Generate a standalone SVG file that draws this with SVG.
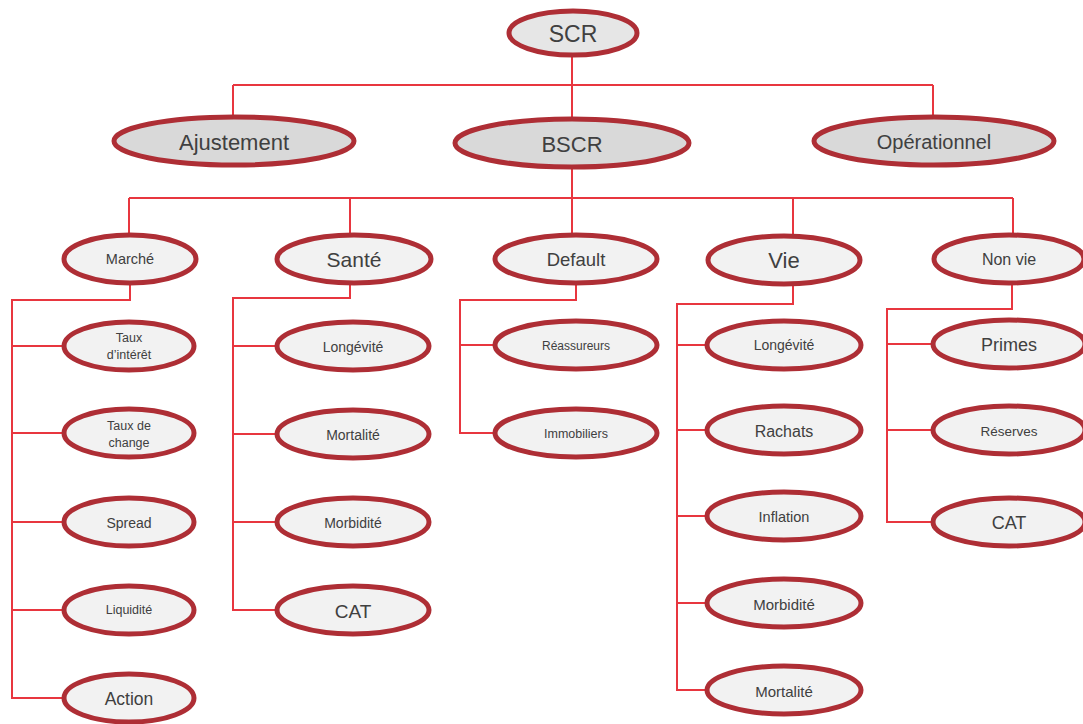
<svg xmlns="http://www.w3.org/2000/svg" width="1083" height="724" viewBox="0 0 1083 724">
<style>
.c{fill:none;stroke:#e8363f;stroke-width:2}
.n ellipse{fill:#f2f2f2;stroke:#ae2e35;stroke-width:5}
.g ellipse{fill:#d9d9d9}
.s ellipse{fill:#e6e6e6}
text{font-family:"Liberation Sans",Arial,sans-serif;fill:#404040;text-anchor:middle;dominant-baseline:central}
</style>
<rect width="1083" height="724" fill="#ffffff"/>
<g id="connectors">
<path class="c" d="M572 55V85M233 85H933M233 85V117M572 85V119M933 85V117"/>
<path class="c" d="M572 167V198M129 198H1013M129 198V235M350 198V235M572 198V235M793 198V236M1013 198V235"/>
<path class="c" d="M130 283V300H12V698H64M12 346H64M12 433H64M12 522H64M12 610H64"/>
<path class="c" d="M350 283V298H233V610H277M233 346H277M233 434H277M233 522H277"/>
<path class="c" d="M576 283V300H460V433H495M460 345H495"/>
<path class="c" d="M793 284V304H677V690H707M677 345H707M677 430H707M677 516H707M677 603H707"/>
<path class="c" d="M1012 283V309H887V522H933M887 344H933M887 430H933"/>
</g>
<g id="scr" class="n s"><ellipse cx="573" cy="33" rx="64" ry="22"/><text x="573" y="34" font-size="23">SCR</text></g>
<g id="ajustement" class="n g"><ellipse cx="234" cy="141" rx="120" ry="24"/><text x="234" y="142" font-size="22">Ajustement</text></g>
<g id="bscr" class="n g"><ellipse cx="572" cy="143" rx="117" ry="24"/><text x="572" y="144" font-size="22">BSCR</text></g>
<g id="operationnel" class="n g"><ellipse cx="934" cy="141" rx="120" ry="24"/><text x="934" y="142" font-size="20">Opérationnel</text></g>
<g id="marche" class="n"><ellipse cx="130" cy="259" rx="66" ry="24"/><text x="130" y="259" font-size="14.5">Marché</text></g>
<g id="sante" class="n"><ellipse cx="354" cy="259" rx="77" ry="24"/><text x="354" y="259" font-size="21">Santé</text></g>
<g id="default" class="n"><ellipse cx="576" cy="259" rx="81" ry="24"/><text x="576" y="259" font-size="18.5">Default</text></g>
<g id="vie" class="n"><ellipse cx="784" cy="260" rx="76" ry="24"/><text x="784" y="260" font-size="22">Vie</text></g>
<g id="nonvie" class="n"><ellipse cx="1009" cy="259" rx="75" ry="24"/><text x="1009" y="259" font-size="16">Non vie</text></g>
<g id="taux-interet" class="n"><ellipse cx="129" cy="346" rx="65" ry="24"/><text x="129" y="338" font-size="12.5">Taux</text><text x="129" y="355" font-size="12.5">d’intérêt</text></g>
<g id="taux-change" class="n"><ellipse cx="129" cy="433" rx="65" ry="24"/><text x="129" y="426" font-size="12.5">Taux de</text><text x="129" y="443" font-size="12.5">change</text></g>
<g id="spread" class="n"><ellipse cx="129" cy="522" rx="65" ry="24"/><text x="129" y="523" font-size="14">Spread</text></g>
<g id="liquidite" class="n"><ellipse cx="129" cy="610" rx="65" ry="24"/><text x="129" y="610" font-size="12.5">Liquidité</text></g>
<g id="action" class="n"><ellipse cx="129" cy="698" rx="65" ry="24"/><text x="129" y="699" font-size="17.5">Action</text></g>
<g id="sante-longevite" class="n"><ellipse cx="353" cy="346" rx="76" ry="24"/><text x="353" y="347" font-size="14">Longévité</text></g>
<g id="sante-mortalite" class="n"><ellipse cx="353" cy="434" rx="76" ry="24"/><text x="353" y="435" font-size="14">Mortalité</text></g>
<g id="sante-morbidite" class="n"><ellipse cx="353" cy="522" rx="76" ry="24"/><text x="353" y="523" font-size="14">Morbidité</text></g>
<g id="sante-cat" class="n"><ellipse cx="353" cy="610" rx="76" ry="24"/><text x="353" y="611" font-size="19">CAT</text></g>
<g id="reassureurs" class="n"><ellipse cx="576" cy="345" rx="81" ry="24"/><text x="576" y="346" font-size="12">Réassureurs</text></g>
<g id="immobiliers" class="n"><ellipse cx="576" cy="433" rx="81" ry="24"/><text x="576" y="434" font-size="12.5">Immobiliers</text></g>
<g id="vie-longevite" class="n"><ellipse cx="784" cy="345" rx="77" ry="24"/><text x="784" y="345" font-size="14">Longévité</text></g>
<g id="rachats" class="n"><ellipse cx="784" cy="430" rx="77" ry="24"/><text x="784" y="431" font-size="16">Rachats</text></g>
<g id="inflation" class="n"><ellipse cx="784" cy="516" rx="77" ry="24"/><text x="784" y="517" font-size="14.5">Inflation</text></g>
<g id="vie-morbidite" class="n"><ellipse cx="784" cy="603" rx="77" ry="24"/><text x="784" y="604" font-size="15">Morbidité</text></g>
<g id="vie-mortalite" class="n"><ellipse cx="784" cy="690" rx="77" ry="24"/><text x="784" y="691" font-size="15">Mortalité</text></g>
<g id="primes" class="n"><ellipse cx="1009" cy="344" rx="76" ry="24"/><text x="1009" y="345" font-size="18">Primes</text></g>
<g id="reserves" class="n"><ellipse cx="1009" cy="430" rx="76" ry="24"/><text x="1009" y="431" font-size="13.5">Réserves</text></g>
<g id="nonvie-cat" class="n"><ellipse cx="1009" cy="522" rx="76" ry="24"/><text x="1009" y="523" font-size="18">CAT</text></g>
</svg>
